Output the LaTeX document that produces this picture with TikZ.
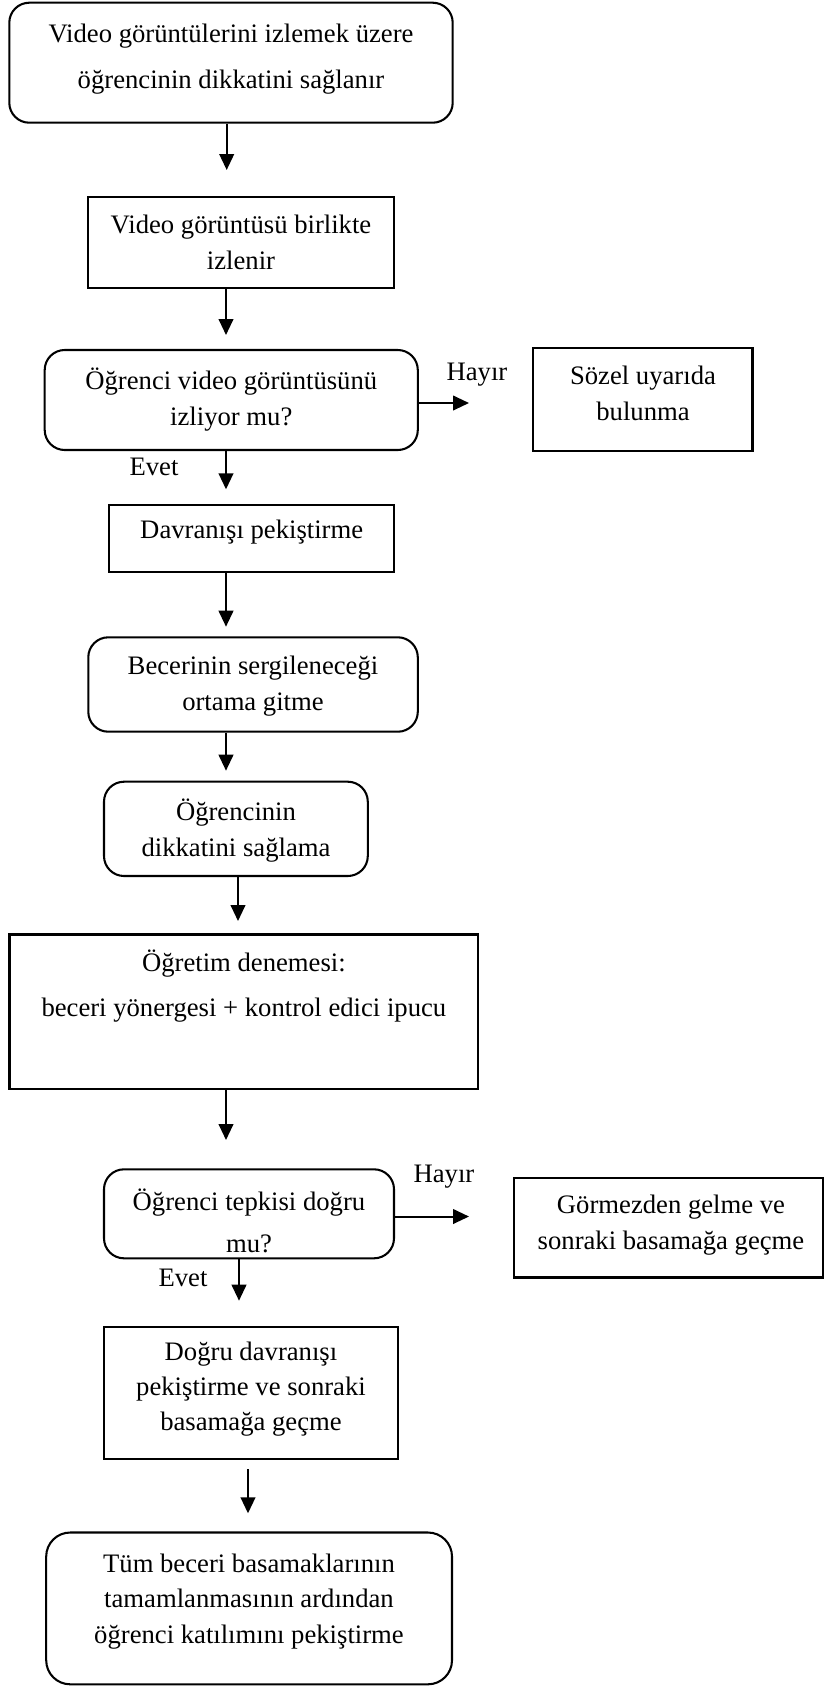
\documentclass[tikz,border=0pt]{standalone}
\usepackage{fontspec}
\setmainfont{Liberation Serif}
\usetikzlibrary{arrows.meta,fit}
\tikzset{
  box/.style={draw, line width=1.55pt, inner sep=0pt},
  rbox/.style={box, rounded corners=15pt},
  txt/.style={align=center, inner sep=0pt, font=\fontsize{20}{27}\selectfont},
  lbl/.style={inner sep=0pt, font=\fontsize{20}{24}\selectfont},
  arr/.style={line width=1.5pt, -{Triangle[length=12pt,width=11pt]}},
}
\begin{document}
\begin{tikzpicture}[x=0.75pt,y=-0.75pt]
\useasboundingbox (0,0) rectangle (824,1686);
% boxes
\node[rbox, fit={(9.3,2.7) (452.7,122.7)}] (b1) {};
\node[box, fit={(87.7,196.7) (394.3,288.3)}] (b2) {};
\node[rbox, fit={(44.7,350) (417.8,450)}] (b3) {};
\node[box, fit={(533.4,348.3) (752.5,450.7)}] (bs) {};
\node[box, fit={(109.3,505) (394.1,571.7)}] (b4) {};
\node[rbox, fit={(88.3,637.3) (417.8,731.7)}] (b5) {};
\node[rbox, fit={(104,781.7) (367.8,876)}] (b6) {};
\node[box, fit={(9.5,934.5) (478.2,1089)}] (b7) {};
\node[rbox, fit={(104,1169.3) (394,1258.3)}] (b8) {};
\node[box, fit={(514,1178.3) (823,1277.5)}] (b9) {};
\node[box, fit={(104,1326.7) (398.3,1459)}] (b10) {};
\node[rbox, rounded corners=18pt, fit={(46.2,1532.5) (452,1684.3)}] (b11) {};
% texts
\node[txt, font=\fontsize{20}{34.5}\selectfont] (t1) at (231,59) {Video görüntülerini izlemek üzere\\öğrencinin dikkatini sağlanır};
\node[txt] (t2) at (241,242) {Video görüntüsü birlikte\\izlenir};
\node[txt] (t3) at (231.3,400) {Öğrenci video görüntüsünü\\izliyor mu?};
\node[txt] (ts) at (643,393.5) {Sözel uyarıda\\bulunma};
\node[txt] (t4) at (251.7,532) {Davranışı pekiştirme};
\node[txt] (t5) at (253,686) {Becerinin sergileneceği\\ortama gitme};
\node[txt] (t6) at (236,830.5) {Öğrencinin\\dikkatini sağlama};
\node[txt, font=\fontsize{20}{33.75}\selectfont] (t7) at (243.9,985.8) {Öğretim denemesi:\\beceri yönergesi + kontrol edici ipucu};
\node[txt, font=\fontsize{20}{31.3}\selectfont] (t8) at (249,1221) {Öğrenci tepkisi doğru\\mu?};
\node[txt] (t9) at (671,1224.7) {Görmezden gelme ve\\sonraki basamağa geçme};
\node[txt, font=\fontsize{20}{26.25}\selectfont] (t10) at (251,1389) {Doğru davranışı\\pekiştirme ve sonraki\\basamağa geçme};
\node[txt, font=\fontsize{20}{26.6}\selectfont] (t11) at (249,1601.5) {Tüm beceri basamaklarının\\tamamlanmasının ardından\\öğrenci katılımını pekiştirme};
% labels
\node[lbl] (l1) at (477,375) {Hayır};
\node[lbl] (l2) at (154,466.7) {Evet};
\node[lbl] (l3) at (444,1176.7) {Hayır};
\node[lbl] (l4) at (183,1278) {Evet};
% arrow tips
\coordinate (a1) at (226.7,170);
\coordinate (a2) at (226,335);
\coordinate (h1) at (469,403);
\coordinate (a3) at (226,489.3);
\coordinate (a4) at (226,626.7);
\coordinate (a5) at (226,770.7);
\coordinate (a6) at (238,921);
\coordinate (a7) at (226,1140);
\coordinate (h2) at (469,1216.5);
\coordinate (a8) at (239,1300.7);
\coordinate (a9) at (248,1513.3);
% connectors
\draw[arr] (b1.south -| a1) -- (a1);
\draw[arr] (b2.south -| a2) -- (a2);
\draw[arr] (b3.east |- h1) -- (h1);
\draw[arr] (b3.south -| a3) -- (a3);
\draw[arr] (b4.south -| a4) -- (a4);
\draw[arr] (b5.south -| a5) -- (a5);
\draw[arr] (b6.south -| a6) -- (a6);
\draw[arr] (b7.south -| a7) -- (a7);
\draw[arr] (b8.east |- h2) -- (h2);
\draw[arr] (b8.south -| a8) -- (a8);
\draw[arr, shorten <=7pt] (b10.south -| a9) -- (a9);
\end{tikzpicture}
\end{document}
